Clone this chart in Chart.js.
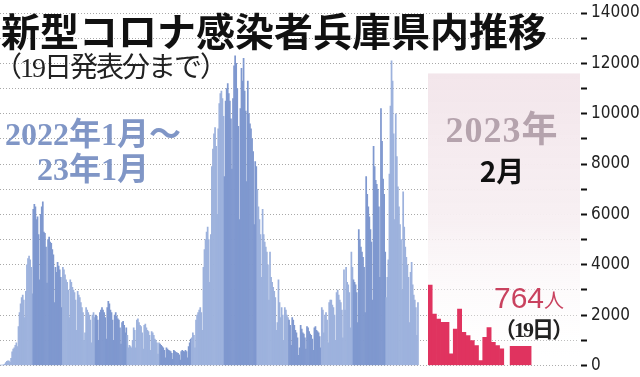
<!DOCTYPE html>
<html lang="ja">
<head>
<meta charset="utf-8">
<script src="https://cdn.jsdelivr.net/npm/chart.js@4.4.1/dist/chart.umd.min.js"></script>
<style>
  html, body { margin: 0; padding: 0; background: #fff; }
  #wrap { position: relative; width: 640px; height: 377px; overflow: hidden; }
  #wrap canvas { position: absolute; left: 0; top: 0; }
  .t { position: absolute; white-space: nowrap; line-height: 1; }
  #title { left: 1px; top: 1px; font: 700 39px 'Noto Sans CJK JP', sans-serif; color: #111; }
  #sub { left: -6px; top: 45px; font: 400 28px 'Liberation Serif', 'Noto Sans CJK JP', serif; color: #222; letter-spacing: -2px; }
  #range { left: 0; top: 117px; width: 186px; text-align: center; font: 700 32px/35px 'Liberation Serif', 'Noto Sans CJK JP', serif; color: #8096c6; }
  #year { left: 440px; top: 100px; width: 124px; text-align: center; font: 700 36px 'Liberation Serif', 'Noto Sans CJK JP', serif; color: #b5a3ad; letter-spacing: 1px; }
  #month { left: 470px; top: 150px; width: 64px; text-align: center; font: 700 28px 'Noto Sans CJK JP', sans-serif; color: #111; }
  #latest { left: 494px; top: 281px; font: 400 30px 'Liberation Sans', 'Noto Sans CJK JP', sans-serif; color: #c9425f; }
  #latest span { font-size: 20px; }
  #latestDay { left: 494px; top: 311px; font: 700 22px 'Liberation Serif', 'Noto Sans CJK JP', serif; color: #222; letter-spacing: -2px; }
</style>
</head>
<body>
<div id="wrap">
  <canvas id="chart" width="640" height="377"></canvas>
  <div class="t" id="title">新型コロナ感染者兵庫県内推移</div>
  <div class="t" id="sub">（19日発表分まで）</div>
  <div class="t" id="range">2022年1月～<br>23年1月</div>
  <div class="t" id="year">2023年</div>
  <div class="t" id="month">2月</div>
  <div class="t" id="latest">764<span>人</span></div>
  <div class="t" id="latestDay">（19日）</div>
</div>
<script>
// daily new cases, Hyogo
const jan22 = [20, 15, 12, 30, 60, 120, 170, 190, 180, 130, 280, 540, 650, 700, 800, 900, 750, 1550, 2100, 2450, 2700, 2800, 2600, 1900, 2950, 4000, 4250, 4350, 4200, 3900, 2850];
const feb22 = [6200, 6400, 6300, 5800, 5900, 5200, 3400, 6000, 6300, 6500, 5300, 5250, 4700, 3270, 5000, 5100, 4900, 4850, 4600, 4400, 2500, 3900, 3700, 4100, 3950, 3800, 3500, 2300];
const mar22 = [3900, 3800, 3600, 3400, 3300, 3000, 1900, 3400, 3300, 3100, 3000, 2900, 2600, 1400, 2950, 2800, 2700, 2500, 2300, 2100, 1000, 1300, 2300, 2200, 2100, 2000, 1800, 900, 2000, 2100, 1900];
const apr22 = [2000, 1950, 1800, 1000, 2100, 2200, 2300, 2200, 2100, 1900, 1050, 2300, 2550, 2450, 2200, 2100, 1800, 1000, 2000, 2100, 1950, 1850, 1800, 1500, 850, 1700, 1750, 1600, 1300, 1500];
const may22 = [1200, 700, 800, 750, 700, 1000, 1500, 1400, 700, 1800, 1850, 1700, 1600, 1550, 1300, 650, 1600, 1650, 1500, 1400, 1350, 1200, 600, 1350, 1300, 1200, 1050, 1000, 900, 450, 900];
const jun22 = [850, 800, 750, 700, 600, 300, 700, 650, 600, 580, 550, 480, 250, 600, 560, 520, 500, 480, 420, 220, 550, 600, 560, 540, 600, 550, 300, 750, 900, 1050];
const jul22 = [1100, 1300, 1200, 700, 1800, 2000, 2100, 2200, 2300, 2100, 1400, 3900, 4600, 5000, 5300, 5500, 5000, 3300, 5200, 7900, 8600, 9200, 9450, 8700, 6000, 9400, 10400, 10800, 10900, 10600, 9900];
const aug22 = [7500, 10500, 11000, 11200, 10800, 10500, 9800, 7800, 10600, 11900, 12300, 12000, 11000, 9500, 5800, 10200, 11800, 11300, 12200, 10900, 10100, 7300, 11300, 10000, 9600, 9400, 9000, 8500, 5600, 8100, 7900];
const sep22 = [7000, 6300, 5800, 5200, 3500, 6200, 5200, 4900, 4700, 4500, 4000, 2600, 4500, 3500, 3300, 3100, 2950, 2700, 1400, 1700, 3400, 2500, 1900, 2300, 2000, 1000, 2300, 2200, 2000, 1900];
const oct22 = [1800, 1600, 800, 1900, 1800, 1600, 1400, 1300, 1100, 400, 700, 1600, 1450, 1300, 1250, 1100, 650, 1550, 1500, 1350, 1250, 1200, 1050, 600, 1500, 1550, 1400, 1350, 1300, 1150, 700];
const nov22 = [2300, 2200, 1300, 2000, 2100, 1800, 900, 2500, 2600, 2600, 2400, 2300, 2000, 1000, 2900, 3000, 2800, 2600, 2500, 2200, 1100, 3800, 2200, 3900, 3300, 3200, 2900, 1500, 4500, 3900];
const dec22 = [3400, 3300, 3200, 2900, 1700, 5400, 5000, 4700, 4500, 4300, 3900, 2100, 7500, 6800, 6300, 5900, 5400, 4900, 2600, 8700, 7900, 7350, 7200, 7000, 6300, 3500, 10200, 8900, 7400, 6800, 4500];
const jan23 = [2700, 3500, 4200, 7600, 10300, 12100, 11300, 9200, 5800, 10000, 8300, 7100, 6300, 5600, 5000, 3000, 6900, 5500, 4700, 4300, 4000, 3500, 1700, 3700, 4100, 3200, 2800, 2600, 2300, 1200, 2500];

const monthLabels = ['2022年1月', '2月', '3月', '4月', '5月', '6月', '7月', '8月', '9月', '10月', '11月', '12月', '2023年1月'];
const monthCases = [jan22, feb22, mar22, apr22, may22, jun22, jul22, aug22, sep22, oct22, nov22, dec22, jan23];

// February 2023, days 1-18, then the highlighted latest day
const feb23 = [3190, 2040, 1840, 1710, 1710, 460, 1450, 2240, 1320, 1190, 990, 790, 200, 1120, 1510, 920, 790, 660];
const latestLabel = '19日';
const latestCases = 764;

const yTicks = [0, 2000, 4000, 6000, 8000, 10000, 12000, 14000];

const lightBlue = '#9db2dd';
const darkBlue = '#7f98cf';
const red = '#e0335f';

// narrow face for the axis numbers if there is one
function hasFont(name) {
  const c = document.createElement('canvas').getContext('2d');
  c.font = '20px monospace';
  const base = c.measureText('14000 abc').width;
  c.font = "20px '" + name + "', monospace";
  return c.measureText('14000 abc').width !== base;
}
const narrow = hasFont('Liberation Sans Narrow');
const tickFont = narrow
  ? { family: "'Liberation Sans Narrow'", size: 21, lineHeight: 1 }
  : { family: "'DejaVu Sans Condensed', sans-serif", size: 17, lineHeight: 1 };

// flatten months into one day index, colouring alternate months
const pastPoints = [];
const pastColors = [];
monthCases.forEach((vals, m) => {
  vals.forEach(v => {
    pastPoints.push({ x: pastPoints.length + 1, y: v });
    pastColors.push(m % 2 === 0 ? lightBlue : darkBlue);
  });
});
const febPoints = feb23.map((v, i) => ({ x: i + 1, y: v }));

const pinkBand = {
  id: 'pinkBand',
  beforeDatasetsDraw(chart) {
    const { ctx, chartArea, scales } = chart;
    const x2 = scales.x2, y = scales.y;
    const top = y.getPixelForValue(11600);
    const g = ctx.createLinearGradient(0, top, 0, chartArea.bottom);
    g.addColorStop(0, 'rgba(243,230,235,1)');
    g.addColorStop(0.5, 'rgba(247,239,242,0.95)');
    g.addColorStop(1, 'rgba(255,255,255,0.1)');
    ctx.save();
    ctx.fillStyle = g;
    ctx.fillRect(x2.left, top, chartArea.right + 1 - x2.left, chartArea.bottom - top);
    ctx.restore();
  }
};

const chart = new Chart(document.getElementById('chart'), {
  type: 'bar',
  data: {
    datasets: [{
      label: '2022年1月～23年1月',
      data: pastPoints,
      xAxisID: 'x',
      backgroundColor: pastColors,
      categoryPercentage: 1,
      barPercentage: 1,
      grouped: false
    }, {
      label: '2023年2月',
      data: febPoints,
      xAxisID: 'x2',
      backgroundColor: red,
      categoryPercentage: 1,
      barPercentage: 1,
      grouped: false
    }, {
      label: latestLabel,
      data: [{ x: feb23.length + 4.5, y: latestCases }],
      xAxisID: 'x2',
      backgroundColor: red,
      barThickness: 21,
      grouped: false
    }]
  },
  options: {
    responsive: false,
    animation: false,
    layout: { padding: { top: 13, bottom: 11, left: 0, right: 0 } },
    plugins: {
      legend: { display: false },
      tooltip: { enabled: false }
    },
    scales: {
      x: {
        type: 'linear', display: false, offset: false,
        min: 0.5, max: 405.5,
        stack: 'days', stackWeight: 428
      },
      x2: {
        type: 'linear', display: false, offset: false,
        min: 0.5, max: 36.37,
        stack: 'days', stackWeight: 151
      },
      y: {
        position: 'right',
        min: 0, max: 14000,
        ticks: {
          stepSize: 1000,
          autoSkip: false,
          padding: 3,
          color: '#222',
          font: tickFont,
          callback: v => yTicks.includes(v) ? String(v) : ''
        },
        grid: {
          color: '#a9a9a9',
          tickColor: '#111',
          tickLength: 9,
          tickWidth: 2,
          // gap of 2, then a 6px dash, kept apart from the dotted line
          tickBorderDash: [0, 2, 6, 20],
          tickBorderDashOffset: 0
        },
        border: { display: false, dash: [1, 2] },
        afterFit: s => { s.width = 61; }
      }
    }
  },
  plugins: [pinkBand]
});
</script>
</body>
</html>
